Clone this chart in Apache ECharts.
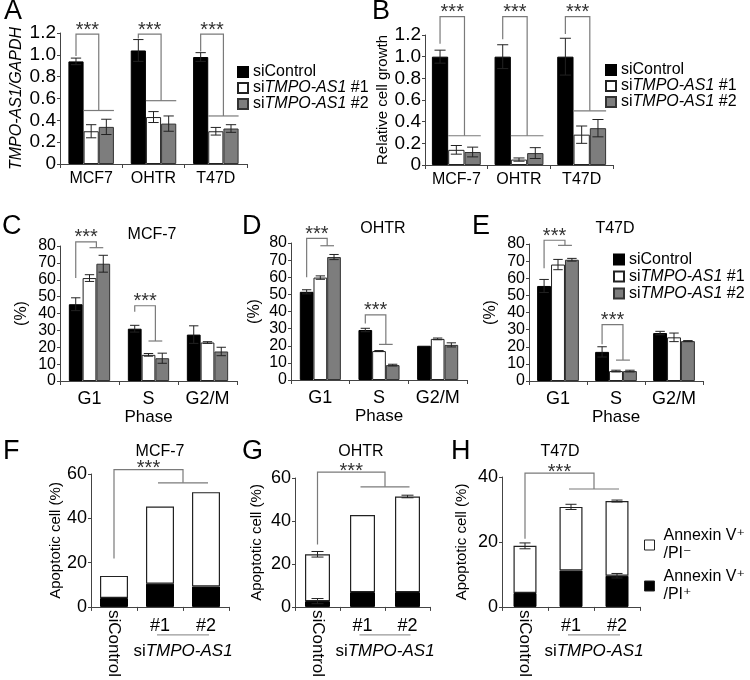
<!DOCTYPE html>
<html><head><meta charset="utf-8">
<script src="https://cdn.jsdelivr.net/npm/echarts@6/dist/echarts.min.js"></script>
<style>html,body{margin:0;padding:0;background:#fff}#c{width:750px;height:680px}</style>
</head><body><div id="c"></div>
<script>
const FF = "'Liberation Sans', Arial, 'DejaVu Sans', sans-serif";
const AX = '#444';
const BR = '#7a7a7a';
const groups = ['siControl', 'siTMPO-AS1 #1', 'siTMPO-AS1 #2'];
const annex = ['Annexin V+/PI-', 'Annexin V+/PI+'];

// ---- Panel A ----
const aCats = ['MCF7', 'OHTR', 'T47D'];
const aCtrl = [0.94, 1.04, 0.98];
const aCtrlErr = [0.03, 0.10, 0.04];
const aSi1 = [0.30, 0.43, 0.30];
const aSi1Err = [0.06, 0.05, 0.035];
const aSi2 = [0.34, 0.37, 0.325];
const aSi2Err = [0.07, 0.07, 0.035];
const aBrackets = [[0, 0.99, 1.19, 0.49], [1, 1.15, 1.19, 0.58], [2, 1.03, 1.19, 0.44]];

// ---- Panel B ----
const bCats = ['MCF-7', 'OHTR', 'T47D'];
const bCtrl = [1.0, 1.0, 1.0];
const bCtrlErr = [0.06, 0.11, 0.17];
const bSi1 = [0.14, 0.05, 0.28];
const bSi1Err = [0.04, 0.015, 0.08];
const bSi2 = [0.12, 0.11, 0.34];
const bSi2Err = [0.045, 0.05, 0.08];
const bBrackets = [[0, 1.12, 1.37, 0.27], [1, 1.16, 1.37, 0.27], [2, 1.21, 1.37, 0.5]];

// ---- Panels C-E (cell cycle) ----
const phaseCats = ['G1', 'S', 'G2/M'];
const cCtrl = [45.5, 31.0, 27.5];
const cCtrlErr = [3.8, 2.0, 5.2];
const cSi1 = [61.0, 15.5, 22.8];
const cSi1Err = [2.0, 0.8, 0.5];
const cSi2 = [69.5, 13.5, 17.5];
const cSi2Err = [5.0, 3.0, 2.5];
const cBrackets = [[0, 61, 82.5, 79], [1, 41, 44.6, 23.7]];

const dCtrl = [51.5, 29.2, 20.0];
const dCtrlErr = [1.2, 1.0, 0];
const dSi1 = [59.8, 16.9, 24.0];
const dSi1Err = [1.0, 0.3, 0.5];
const dSi2 = [71.8, 8.7, 20.5];
const dSi2Err = [1.5, 0.5, 1.2];
const dBrackets = [[0, 60, 82.7, 78.4], [1, 33, 38, 20.8]];

const eCtrl = [55.5, 17.0, 28.0];
const eCtrlErr = [3.8, 3.0, 1.0];
const eSi1 = [68.0, 5.8, 25.5];
const eSi1Err = [3.0, 0.5, 2.5];
const eSi2 = [70.8, 5.8, 23.3];
const eSi2Err = [0.8, 0.5, 0.3];
const eBrackets = [[0, 65.8, 82.2, 79.2], [1, 21.5, 32.9, 12.2]];

// ---- Panels F-H (apoptosis, stacked) ----
const apoCats = ['siControl', '#1', '#2'];
const fBlack = [4.0, 10.5, 9.2];
const fTotal = [14.0, 45.3, 51.8];
const fTotalErr = [0, 0, 0];
const fBlackErr = [0, 0, 0];
const fBracket = [21.9, 62, 56];

const gBlack = [2.7, 6.9, 6.9];
const gTotal = [24.5, 42.8, 51.4];
const gTotalErr = [1.3, 0, 0.6];
const gBlackErr = [1.2, 0, 0];
const gBracket = [29, 62.7, 55.9];

const hBlack = [4.3, 11.2, 9.6];
const hTotal = [18.8, 30.8, 32.6];
const hTotalErr = [0.9, 0.8, 0.3];
const hBlackErr = [0, 0, 0.7];
const hBracket = [21, 41.2, 36.3];

// ================= builders =================
const grids = [], xAxes = [], yAxes = [], series = [];
function richLH(lh, fs) {
  return {
    n: {fontSize: fs, fontFamily: FF, color: '#000', lineHeight: lh},
    i: {fontSize: fs, fontFamily: FF, fontStyle: 'italic', color: '#000', lineHeight: lh}
  };
}
function legendFmt(name) {
  if (name === 'siControl') return '{n|siControl}';
  const m = name.match(/^si(TMPO-AS1)(.*)$/);
  return '{n|si}{i|' + m[1] + '}{n|' + m[2] + '}';
}

function errRenderer(n, gapFrac, fixedBw, capFrac) {
  return function (params, api) {
    const cat = api.value(0), v = api.value(1), e = api.value(2), k = api.value(3);
    if (!e) return {type: 'group', children: []};
    const band = api.size([1, 0])[0];
    const bw = fixedBw || band * (1 - gapFrac) / n;
    const x = api.coord([cat, v])[0] + (k - (n - 1) / 2) * bw;
    const yh = api.coord([cat, v + e])[1];
    const yl = api.coord([cat, Math.max(0, v - e)])[1];
    const cap = bw * capFrac;
    const st = {stroke: '#222', lineWidth: 1};
    return {type: 'group', children: [
      {type: 'line', shape: {x1: x, y1: yh, x2: x, y2: yl}, style: st},
      {type: 'line', shape: {x1: x - cap, y1: yh, x2: x + cap, y2: yh}, style: st},
      {type: 'line', shape: {x1: x - cap, y1: yl, x2: x + cap, y2: yl}, style: st}
    ]};
  };
}
function starText(x, y) {
  return {type: 'text', x: x, y: y, style: {text: '***', fontSize: 20, fontFamily: FF, fill: '#333',
    align: 'center', verticalAlign: 'middle', textAlign: 'center', textVerticalAlign: 'middle'}};
}
function groupBracketRenderer(gapFrac, crossExt) {
  return function (params, api) {
    const cat = api.value(0), y0 = api.value(1), yt = api.value(2), yc = api.value(3);
    const band = api.size([1, 0])[0];
    const bw = band * (1 - gapFrac) / 3;
    const c = api.coord([cat, yt]);
    const xl = c[0] - bw, xr = c[0] + bw / 2;
    const pb = api.coord([cat, y0])[1], pt = c[1], pc = api.coord([cat, yc])[1];
    const ls = {stroke: BR, lineWidth: 1.2, fill: null};
    return {type: 'group', children: [
      {type: 'polyline', shape: {points: [[xl, pb], [xl, pt], [xr, pt], [xr, pc]]}, style: ls},
      {type: 'line', shape: {x1: xr - crossExt * bw, y1: pc, x2: xr + crossExt * bw, y2: pc}, style: ls},
      starText((xl + xr) / 2, pt - 4)
    ]};
  };
}
function stackBracketRenderer(params, api) {
  const y0 = api.value(0), yt = api.value(1), yc = api.value(2);
  const p0 = api.coord([0, yt]), p1 = api.coord([1, yt]), p2 = api.coord([2, yt]);
  const xl = p0[0], xr = (p1[0] + p2[0]) / 2;
  const pb = api.coord([0, y0])[1], pt = p0[1], pc = api.coord([1, yc])[1];
  const ls = {stroke: BR, lineWidth: 1.2, fill: null};
  return {type: 'group', children: [
    {type: 'polyline', shape: {points: [[xl, pb], [xl, pt], [xr, pt], [xr, pc]]}, style: ls},
    {type: 'line', shape: {x1: p1[0] - 2, y1: pc, x2: p2[0] + 2, y2: pc}, style: ls},
    starText((xl + xr) / 2, pt - 1)
  ]};
}
function underlineRenderer(params, api) {
  const a = api.coord([api.value(0), 0]), b = api.coord([api.value(1), 0]);
  const y = a[1] + 28;
  return {type: 'group', children: [
    {type: 'line', shape: {x1: a[0] - 3, y1: y, x2: b[0] + 3, y2: y}, style: {stroke: '#999', lineWidth: 1.2}},
    {type: 'text', x: (a[0] + b[0]) / 2, y: y + 16, style: {text: '{n|si}{i|TMPO-AS1}', rich: richLH(18, 17),
      align: 'center', verticalAlign: 'middle', textAlign: 'center', textVerticalAlign: 'middle'}}
  ]};
}

function axisCommonX(gi, cats, fs, margin) {
  return {type: 'category', gridIndex: gi, data: cats, position: 'bottom',
    axisLine: {lineStyle: {color: AX, width: 1}},
    axisTick: {show: true, length: 4, lineStyle: {color: AX}},
    axisLabel: {color: '#000', fontSize: fs, fontFamily: FF, margin: margin, interval: 0},
    splitLine: {show: false}};
}
function axisCommonY(gi, max, interval, fs, name, nameGap, nameFs, italic, fmt) {
  return {type: 'value', gridIndex: gi, min: 0, max: max, interval: interval, position: 'left',
    axisLine: {show: true, lineStyle: {color: AX, width: 1}},
    axisTick: {show: true, length: 3, lineStyle: {color: AX}},
    axisLabel: {color: '#000', fontSize: fs, fontFamily: FF, margin: 4, formatter: fmt, lineHeight: 13,
      showMinLabel: true, showMaxLabel: true, hideOverlap: false},
    splitLine: {show: false},
    name: name, nameLocation: 'middle', nameGap: nameGap,
    nameTextStyle: {color: '#000', fontSize: nameFs, fontFamily: FF, fontStyle: italic ? 'italic' : 'normal'}};
}

const barStyles = [
  {color: '#000', borderColor: '#000', borderWidth: 1},
  {color: '#fff', borderColor: '#222', borderWidth: 1},
  {color: '#7d7d7d', borderColor: '#333', borderWidth: 1}
];

function groupedPanel(p) {
  const gi = grids.length;
  grids.push(Object.assign({containLabel: false}, p.grid));
  const xi = xAxes.length;
  const xa = axisCommonX(gi, p.cats, p.xfs, p.xMargin);
  if (p.xName) {
    xa.name = p.xName; xa.nameLocation = 'middle'; xa.nameGap = p.xNameGap;
    xa.nameTextStyle = {color: '#000', fontSize: 17, fontFamily: FF};
  }
  xAxes.push(xa);
  const yi = yAxes.length;
  yAxes.push(axisCommonY(gi, p.yMax, p.yInt, p.yfs, p.yName, p.yNameGap, p.yNameFs, p.yItalic, p.yFmt));
  groups.forEach(function (name, k) {
    series.push({type: 'bar', name: name, xAxisIndex: xi, yAxisIndex: yi, data: p.vals[k],
      barGap: '0%', barCategoryGap: p.gap + '%', itemStyle: barStyles[k], silent: true});
  });
  const errData = [];
  p.vals.forEach(function (arr, k) { arr.forEach(function (v, i) { errData.push([i, v, p.errs[k][i], k]); }); });
  series.push({type: 'custom', xAxisIndex: xi, yAxisIndex: yi, data: errData, z: 3, silent: true,
    renderItem: errRenderer(3, p.gap / 100, 0, 0.34)});
  series.push({type: 'custom', xAxisIndex: xi, yAxisIndex: yi, data: p.brackets, z: 3, silent: true,
    renderItem: groupBracketRenderer(p.gap / 100, p.crossExt)});
}

function stackPanel(p) {
  const gi = grids.length;
  grids.push(Object.assign({containLabel: false}, p.grid));
  const xi = xAxes.length;
  const xa = axisCommonX(gi, apoCats, 18, 10);
  xa.axisLabel.formatter = function (v) { return v === 'siControl' ? '' : v; };
  xAxes.push(xa);
  xAxes.push({type: 'category', gridIndex: gi, data: apoCats, position: 'bottom',
    axisLine: {show: false}, axisTick: {show: false}, splitLine: {show: false},
    axisLabel: {rotate: -90, interval: 0, margin: 3, color: '#000', fontSize: 17, fontFamily: FF,
      formatter: function (v) { return v === 'siControl' ? v : ''; }}});
  const yi = yAxes.length;
  yAxes.push(axisCommonY(gi, p.yMax, 20, 18, 'Apoptotic cell (%)', p.yNameGap, 15, false));
  const white = p.total.map(function (t, i) { return +(t - p.black[i]).toFixed(2); });
  series.push({type: 'bar', name: annex[1], stack: 'st' + gi, xAxisIndex: xi, yAxisIndex: yi, data: p.black,
    barWidth: p.bw, itemStyle: {color: '#000', borderColor: '#000', borderWidth: 1}, silent: true});
  series.push({type: 'bar', name: annex[0], stack: 'st' + gi, xAxisIndex: xi, yAxisIndex: yi, data: white,
    barWidth: p.bw, itemStyle: {color: '#fff', borderColor: '#222', borderWidth: 1.2}, silent: true});
  const errData = [];
  p.total.forEach(function (v, i) { errData.push([i, v, p.totalErr[i], 0]); });
  p.black.forEach(function (v, i) { errData.push([i, v, p.blackErr[i], 0]); });
  series.push({type: 'custom', xAxisIndex: xi, yAxisIndex: yi, data: errData, z: 3, silent: true,
    renderItem: errRenderer(1, 0, p.bw, 0.24)});
  series.push({type: 'custom', xAxisIndex: xi, yAxisIndex: yi, data: [p.bracket], z: 3, silent: true,
    renderItem: stackBracketRenderer});
  series.push({type: 'custom', xAxisIndex: xi, yAxisIndex: yi, data: [[1, 2]], z: 3, silent: true,
    renderItem: underlineRenderer});
}

const decFmt = function (v) { return v === 0 ? '0' : v.toFixed(1); };

groupedPanel({grid: {left: 60, top: 33, width: 187, height: 131}, cats: aCats,
  vals: [aCtrl, aSi1, aSi2], errs: [aCtrlErr, aSi1Err, aSi2Err], brackets: aBrackets,
  yMax: 1.2, yInt: 0.2, yfs: 19, yFmt: decFmt, yName: 'TMPO-AS1/GAPDH', yNameGap: 35, yNameFs: 16, yItalic: true,
  xfs: 16, xMargin: 7, gap: 27, crossExt: 1});
groupedPanel({grid: {left: 425, top: 35, width: 188, height: 130}, cats: bCats,
  vals: [bCtrl, bSi1, bSi2], errs: [bCtrlErr, bSi1Err, bSi2Err], brackets: bBrackets,
  yMax: 1.2, yInt: 0.2, yfs: 19, yFmt: decFmt, yName: 'Relative cell growth', yNameGap: 33, yNameFs: 15,
  xfs: 16, xMargin: 7, gap: 22, crossExt: 1});
groupedPanel({grid: {left: 60, top: 246, width: 177, height: 135}, cats: phaseCats,
  vals: [cCtrl, cSi1, cSi2], errs: [cCtrlErr, cSi1Err, cSi2Err], brackets: cBrackets,
  yMax: 80, yInt: 10, yfs: 16, yName: '(%)', yNameGap: 30, yNameFs: 16,
  xfs: 18, xMargin: 9, xName: 'Phase', xNameGap: 28, gap: 30, crossExt: 0.5});
groupedPanel({grid: {left: 291, top: 243, width: 176, height: 137}, cats: phaseCats,
  vals: [dCtrl, dSi1, dSi2], errs: [dCtrlErr, dSi1Err, dSi2Err], brackets: dBrackets,
  yMax: 80, yInt: 10, yfs: 16, yName: '(%)', yNameGap: 28, yNameFs: 16,
  xfs: 18, xMargin: 9, xName: 'Phase', xNameGap: 28, gap: 30, crossExt: 0.5});
groupedPanel({grid: {left: 529, top: 244, width: 174, height: 137}, cats: phaseCats,
  vals: [eCtrl, eSi1, eSi2], errs: [eCtrlErr, eSi1Err, eSi2Err], brackets: eBrackets,
  yMax: 80, yInt: 10, yfs: 16, yName: '(%)', yNameGap: 30, yNameFs: 16,
  xfs: 18, xMargin: 9, xName: 'Phase', xNameGap: 28, gap: 28, crossExt: 0.5});

stackPanel({grid: {left: 91, top: 474, width: 138, height: 138}, black: fBlack, total: fTotal,
  totalErr: fTotalErr, blackErr: fBlackErr, bracket: fBracket, yMax: 60, yNameGap: 28, bw: 28});
stackPanel({grid: {left: 295, top: 478, width: 135, height: 135}, black: gBlack, total: gTotal,
  totalErr: gTotalErr, blackErr: gBlackErr, bracket: gBracket, yMax: 60, yNameGap: 31, bw: 25});
stackPanel({grid: {left: 502, top: 477, width: 138, height: 133}, black: hBlack, total: hTotal,
  totalErr: hTotalErr, blackErr: hBlackErr, bracket: hBracket, yMax: 40, yNameGap: 33, bw: 23});

function siLegend(left, top, lh) {
  return {data: groups, orient: 'vertical', left: left, top: top, itemWidth: 10, itemHeight: 10,
    itemGap: 0, icon: 'rect', padding: 0, selectedMode: false, formatter: legendFmt,
    textStyle: {fontSize: 16, fontFamily: FF, color: '#000', lineHeight: lh, rich: richLH(lh, 16)}};
}
const legends = [
  siLegend(237, 64, 15),
  siLegend(605, 62, 16),
  siLegend(613, 251, 17),
  {data: annex, orient: 'vertical', left: 644, top: 527, itemWidth: 10, itemHeight: 10, itemGap: 5,
    icon: 'rect', padding: 0, selectedMode: false, itemStyle: {borderWidth: 1, borderColor: '#222'},
    formatter: function (n) { return n === annex[0] ? 'Annexin V\u207A\n/PI\u207B' : 'Annexin V\u207A\n/PI\u207A'; },
    textStyle: {fontSize: 16, fontFamily: FF, color: '#000', lineHeight: 18, padding: [0, 0, 0, 4]}}
];

function txt(text, x, y, fs, align) {
  return {type: 'text', x: x, y: y, silent: true,
    style: {text: text, fontSize: fs, fontFamily: FF, fill: '#000',
      align: align || 'center', textAlign: align || 'center', verticalAlign: 'middle', textVerticalAlign: 'middle'}};
}
const panelLetters = [['A', 4, 12], ['B', 372, 12], ['C', 2, 227], ['D', 242, 227], ['E', 472, 227],
  ['F', 3, 452], ['G', 242, 452], ['H', 451, 452]];
const panelTitles = [['MCF-7', 152, 235], ['OHTR', 383, 229], ['T47D', 615, 229],
  ['MCF-7', 160, 452], ['OHTR', 361, 452], ['T47D', 560, 452]];
const graphics = [];
panelLetters.forEach(function (l) { graphics.push(txt(l[0], l[1], l[2], 27, 'left')); });
panelTitles.forEach(function (t) { graphics.push(txt(t[0], t[1], t[2], 16)); });

const chart = echarts.init(document.getElementById('c'), null, {renderer: 'canvas'});
chart.setOption({
  animation: false,
  backgroundColor: '#fff',
  textStyle: {fontFamily: FF},
  grid: grids, xAxis: xAxes, yAxis: yAxes, series: series, legend: legends, graphic: graphics
});
</script></body></html>
